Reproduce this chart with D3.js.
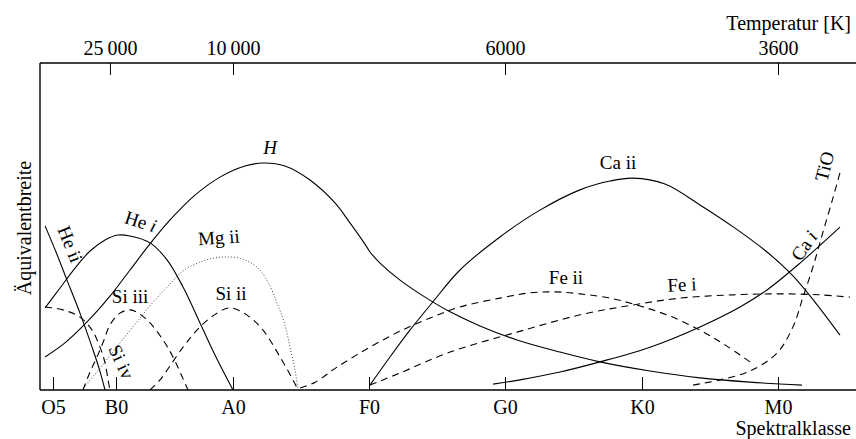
<!DOCTYPE html>
<html>
<head>
<meta charset="utf-8">
<script src="https://cdn.jsdelivr.net/npm/d3@7"></script>
<style>
  html, body { margin: 0; padding: 0; background: #fff; }
  svg { display: block; font-family: "Liberation Serif", "Times New Roman", serif; }
</style>
</head>
<body>
<svg id="chart" width="856" height="439"></svg>
<script>
// Spectral classes along the bottom (subclass units, B0 = 0)
const spectralTicks = [-5, 0, 10, 20, 30, 40, 50];
const spectralLabels = ["O5", "B0", "A0", "F0", "G0", "K0", "M0"];

// Effective temperatures along the top and the spectral subclass they sit at
const temperatureTicks = [25000, 10000, 6000, 3600];
const temperatureAt = [-0.48, 10, 30, 50];

// Equivalent-width curves: [spectral subclass, equivalent width (relative)]
const heII = [[-5.63,50.2],[-4.76,42.2],[-3.89,33.6],[-2.86,23.5],[-1.90,13.1],[-1.35,6.7],[-0.87,0]];
const heI = [[-5.63,25.1],[-4.44,31.2],[-3.25,37.3],[-2.06,42.5],[-0.87,45.9],[0.17,47.4],[1.20,47.1],
  [2.91,45.0],[4.36,39.8],[5.73,31.5],[7.18,20.5],[8.46,10.7],[10,0]];
const hydrogenA = [[-5.63,10.1],[-4.05,14.4],[-2.30,20.8],[-0.48,28.7],[1.20,36.7],[2.82,44.3],[4.62,52.0],
  [6.75,59.6],[8.89,65.1],[10.88,68.5],[12.21,69.4],[13.82,68.5],[15.66,64.2],[17.50,57.2],[18.60,51.1],
  [19.49,45.9],[20.07,42.2]];
const hydrogenB = [[20.07,42.2],[20.81,38.8],[22.28,33.6],[24.12,28.4],[25.96,23.9],[28.16,19.6],[30.88,15.3],
  [34.01,11.6],[36.93,8.6],[40.59,5.8],[44.26,3.7],[47.94,2.4],[51.76,1.5]];
const mgII = [[-2.70,0],[-1.27,6.7],[0.34,14.4],[2.05,22.0],[3.33,27.5],[4.62,32.4],[5.73,36.4],[7.18,39.1],
  [8.46,40.4],[9.49,40.7],[10.66,40.1],[11.76,37.6],[12.57,33.0],[13.24,26.6],[13.82,19.9],[14.19,13.1],
  [14.56,6.1],[14.78,0]];
const siII = [[2.91,0],[3.76,3.1],[5.73,13.1],[7.18,19.3],[8.63,23.5],[9.74,25.1],[11.03,22.9],[12.21,18.3],
  [13.46,10.1],[14.41,3.1],[14.78,0]];
const siIII = [[-2.62,0],[-2.06,5.5],[-1.51,10.1],[-0.95,15.3],[-0.48,19.9],[0.34,23.5],[1.20,24.5],
  [2.05,23.2],[2.91,20.5],[4.02,15.3],[4.87,10.1],[6.15,0]];
const siIV = [[-5.63,25.4],[-4.21,24.5],[-2.86,22.3],[-1.90,18.3],[-1.27,13.1],[-0.87,8.3],[-0.63,3.1],[-0.48,0]];
const feII = [[14.93,0.6],[16.05,2.4],[17.65,7.0],[20.07,13.1],[22.28,18.0],[24.49,22.0],[26.69,25.4],
  [29.63,28.1],[31.82,29.7],[33.65,30.0],[35.47,29.4],[37.66,28.1],[39.85,25.7],[42.06,22.6],[44.26,18.3],
  [46.10,13.8],[47.94,8.6]];
const feI = [[20.07,1.5],[22.28,5.2],[25.96,11.6],[30.88,17.7],[35.69,23.2],[39.34,26.0],[42.79,28.1],
  [46.69,29.1],[50.15,29.4],[53.09,29.1],[55.29,28.4]];
const caII = [[20.07,1.5],[21.54,10.1],[23.01,18.3],[24.63,26.6],[26.69,36.7],[29.63,46.8],[32.55,55.0],
  [35.47,61.2],[37.66,63.9],[39.34,64.8],[41.69,63.0],[44.26,56.6],[46.84,49.5],[49.19,42.2],[51.10,34.9],
  [52.72,26.9],[54.56,16.8]];
const caI = [[29.12,1.8],[31.09,3.1],[34.01,5.5],[36.93,8.6],[40.59,13.1],[44.26,19.3],[47.21,25.4],
  [49.19,30.6],[51.62,38.8],[54.56,49.8]];
const tiO = [[43.75,1.5],[45.74,3.1],[47.94,5.8],[49.93,11.3],[51.10,19.3],[51.84,28.4],[52.57,37.6],
  [53.31,48.3],[54.04,58.7],[54.56,66.4]];

const svg = d3.select("#chart");
const frameLeft = 40, frameTop = 63, frameBottom = 390, frameRight = 856;

// Spectral axis is piecewise linear between the class marks
const x = d3.scaleLinear()
  .domain([-6.03, -5, 0, 10, 20, 30, 40, 50, 55.74])
  .range([frameLeft, 53, 116, 233, 369, 505, 642, 778, frameRight]);
const y = d3.scaleLinear().domain([0, 100]).range([frameBottom, frameTop]);
const tempScale = d3.scaleLinear()
  .domain(temperatureTicks)
  .range(temperatureAt.map(x));

// Frame
const frame = svg.append("g").attr("stroke", "#000").attr("stroke-width", 1.4).attr("fill", "none");
frame.append("line").attr("x1", frameLeft).attr("x2", frameRight).attr("y1", frameTop).attr("y2", frameTop);
frame.append("line").attr("x1", frameLeft).attr("x2", frameRight).attr("y1", frameBottom).attr("y2", frameBottom);
frame.append("line").attr("x1", frameLeft).attr("x2", frameLeft).attr("y1", frameTop).attr("y2", frameBottom);

// Bottom axis: ticks point inward
const xAxis = d3.axisBottom(x)
  .tickValues(spectralTicks)
  .tickFormat((d, i) => spectralLabels[i])
  .tickSizeInner(-13).tickSizeOuter(0).tickPadding(10);
const gx = svg.append("g").attr("transform", `translate(0,${frameBottom})`).call(xAxis);
gx.select(".domain").remove();
gx.selectAll("text").attr("font-size", 20).attr("font-family", "Liberation Serif").attr("fill", "#000");
gx.selectAll("line").attr("stroke", "#000");

// Top axis: temperatures
const fmtTemp = d => d >= 10000 ? `${Math.floor(d / 1000)}\u2009${String(d % 1000).padStart(3, "0")}` : String(d);
const tAxis = d3.axisTop(tempScale)
  .tickValues(temperatureTicks)
  .tickFormat(fmtTemp)
  .tickSizeInner(-12).tickSizeOuter(0).tickPadding(8);
const gt = svg.append("g").attr("transform", `translate(0,${frameTop})`).call(tAxis);
gt.select(".domain").remove();
gt.selectAll("text").attr("font-size", 20).attr("font-family", "Liberation Serif").attr("fill", "#000");
gt.selectAll("line").attr("stroke", "#000");

// Axis titles
svg.append("text").attr("x", 851).attr("y", 30).attr("text-anchor", "end")
  .attr("font-size", 20).text("Temperatur [K]");
svg.append("text").attr("x", 851).attr("y", 435).attr("text-anchor", "end")
  .attr("font-size", 20).text("Spektralklasse");
svg.append("text").attr("transform", "translate(31,228) rotate(-90)").attr("text-anchor", "middle")
  .attr("font-size", 20).text("Äquivalentbreite");

// Curves
const line = d3.line().x(d => x(d[0])).y(d => y(d[1])).curve(d3.curveCatmullRom.alpha(0.5));
const solid = null, dashed = "7,5", dotted = "1,2";
const curves = [
  [heII, solid], [heI, solid], [hydrogenA, solid], [hydrogenB, solid],
  [mgII, dotted], [siII, dashed], [siIII, dashed], [siIV, dashed],
  [feII, dashed], [feI, dashed], [caII, solid], [caI, solid], [tiO, dashed]
];
const plot = svg.append("g").attr("fill", "none");
curves.forEach(([data, dash]) => {
  plot.append("path").attr("d", line(data))
    .attr("stroke", dash === dotted ? "#333" : "#000")
    .attr("stroke-width", dash === dotted ? 0.9 : 1.1)
    .attr("stroke-dasharray", dash);
});

// Curve labels: [spectral, width, rotation, parts]
const labels = [
  [-3.81, 44.3, 68, [["He ii", false]]],
  [2.05, 50.8, 18, [["He ", false], ["i", true]]],
  [12.72, 73.4, 0, [["H", true]]],
  [8.80, 45.9, -4, [["Mg ii", false]]],
  [9.83, 28.7, 0, [["Si ii", false]]],
  [1.20, 27.8, 0, [["Si iii", false]]],
  [0.26, 8.3, 65, [["Si iv", false]]],
  [34.45, 33.6, 0, [["Fe ii", false]]],
  [42.94, 31.5, -3, [["Fe i", false]]],
  [38.25, 68.8, 0, [["Ca ii", false]]],
  [52.07, 43.7, -55, [["Ca ", false], ["i", true]]],
  [53.60, 68.2, -75, [["TiO", false]]]
];
labels.forEach(([s, w, rot, parts]) => {
  const t = svg.append("text")
    .attr("transform", `translate(${x(s)},${y(w)}) rotate(${rot})`)
    .attr("text-anchor", "middle").attr("dominant-baseline", "middle")
    .attr("font-size", 19);
  parts.forEach(([str, it]) => t.append("tspan").attr("font-style", it ? "italic" : "normal").text(str));
});
</script>
</body>
</html>
